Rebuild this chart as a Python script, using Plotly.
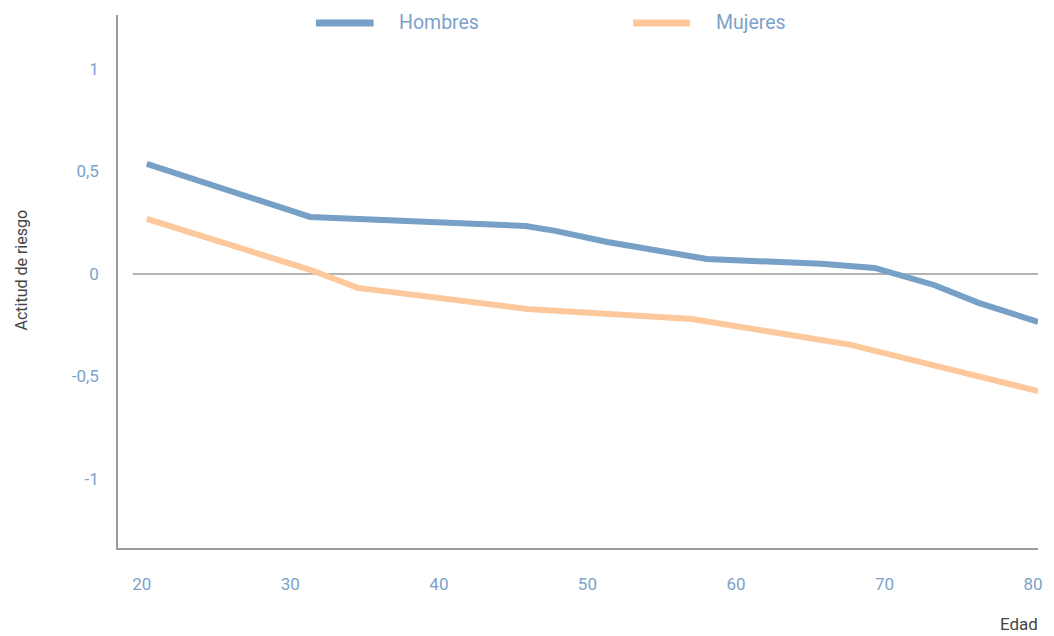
import plotly.graph_objects as go

# Actitud de riesgo por edad
edad_hombres = [20, 31, 45.5, 47.5, 51, 57.7, 65.4, 69, 73, 76, 80]
riesgo_hombres = [0.537, 0.278, 0.234, 0.21, 0.156, 0.073, 0.049, 0.029, -0.054, -0.141, -0.234]

edad_mujeres = [20, 31, 34.2, 45.6, 56.7, 67.4, 80]
riesgo_mujeres = [0.268, 0.02, -0.068, -0.171, -0.22, -0.346, -0.571]

ticks_x = [20, 30, 40, 50, 60, 70, 80]
ticks_y = [-1, -0.5, 0, 0.5, 1]
ticks_y_txt = ["-1", "-0,5", "0", "0,5", "1"]

AZUL = "#76a0c5"
NARANJA = "#fdc99c"
ETIQUETA = "#7ba2c9"
GRIS = "#9a9a9a"
FUENTE = "Roboto"

W, H = 1054, 636
L, R, T, B = 118, 11, 15, 88

def px_x(p):
    return (p - L) / (W - L - R)

def px_y(p):
    return (H - B - p) / (H - T - B)

fig = go.Figure()
fig.add_trace(go.Scatter(x=edad_hombres, y=riesgo_hombres, mode="lines", name="Hombres",
                         line=dict(color=AZUL, width=6), showlegend=False))
fig.add_trace(go.Scatter(x=edad_mujeres, y=riesgo_mujeres, mode="lines", name="Mujeres",
                         line=dict(color=NARANJA, width=6), showlegend=False))

shapes = [
    # línea de referencia en cero
    dict(type="line", xref="x", yref="y", x0=19.05, x1=80.05, y0=0, y1=0,
         line=dict(color=GRIS, width=1.5), layer="below"),
]
annotations = []

# leyenda superior
for x0, x1, tx, color, nombre in [(317, 375, 399, AZUL, "Hombres"), (636, 693, 717, NARANJA, "Mujeres")]:
    shapes.append(dict(type="line", xref="paper", yref="paper",
                       x0=px_x(x0), x1=px_x(x1), y0=px_y(23), y1=px_y(23),
                       line=dict(color=color, width=7)))
    annotations.append(dict(text=nombre, xref="paper", yref="paper", x=px_x(tx), y=px_y(23),
                            xanchor="left", yanchor="middle", showarrow=False,
                            font=dict(family=FUENTE, size=19.5, color=ETIQUETA)))

annotations.append(dict(text="Actitud de riesgo", xref="paper", yref="paper",
                        x=px_x(20), y=px_y(270), textangle=-90, xanchor="center", yanchor="middle",
                        showarrow=False, font=dict(family=FUENTE, size=16, color="#444444")))
annotations.append(dict(text="Edad", xref="paper", yref="paper",
                        x=px_x(1045), y=px_y(624), xanchor="right", yanchor="middle",
                        showarrow=False, font=dict(family=FUENTE, size=17, color="#444444")))

fig.update_layout(
    width=W, height=H,
    margin=dict(l=L, r=R, t=T, b=B),
    paper_bgcolor="white", plot_bgcolor="white",
    shapes=shapes, annotations=annotations,
    showlegend=False,
    xaxis=dict(range=[18.06, 80.0], tickvals=ticks_x, showgrid=False, zeroline=False,
               showline=True, linecolor=GRIS, linewidth=2,
               ticks="outside", ticklen=20, tickcolor="rgba(0,0,0,0)", ticklabelshift=-5,
               tickfont=dict(family=FUENTE, size=17, color=ETIQUETA)),
    yaxis=dict(range=[-1.337, 1.263], tickvals=ticks_y, ticktext=ticks_y_txt, showgrid=False,
               zeroline=False, showline=True, linecolor=GRIS, linewidth=1.5,
               ticks="outside", ticklen=14, tickcolor="rgba(0,0,0,0)",
               tickfont=dict(family=FUENTE, size=17, color=ETIQUETA)),
)

fig.write_html("out.html")
